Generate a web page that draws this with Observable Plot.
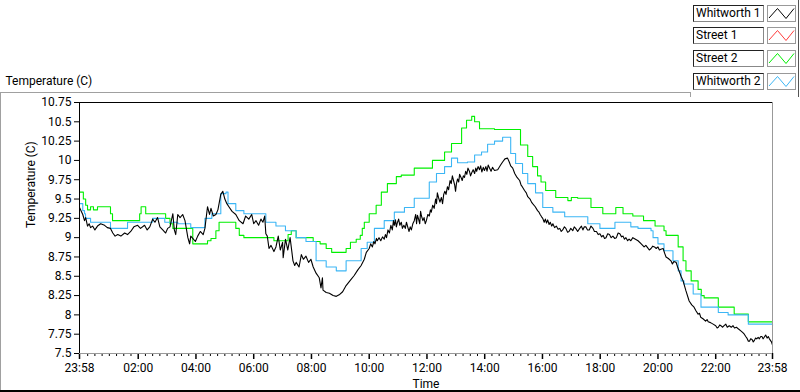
<!DOCTYPE html>
<html>
<head>
<meta charset="utf-8">
<script src="https://cdn.jsdelivr.net/npm/d3@7"></script>
<script src="https://cdn.jsdelivr.net/npm/@observablehq/plot@0.6"></script>
<style>
  html, body { margin: 0; padding: 0; background: #fff; }
  #wrap { position: relative; width: 800px; height: 392px; overflow: hidden; font-family: Roboto, "Liberation Sans", sans-serif; font-size: 12px; color: #000; }
  #chart { position: absolute; left: 0; top: 0; }
  .ln { position: absolute; }
  .lab { position: absolute; left: 693px; border-top: 1px solid #222; border-left: 1px solid #222; border-right: 1px solid #888; border-bottom: 1px solid #888; line-height: 15px; padding-left: 2px; box-sizing: border-box; width: 71px; height: 17px; background: #fff; white-space: nowrap; }
  .sw { position: absolute; left: 767px; width: 29px; height: 17px; border: 1px solid #999; box-sizing: border-box; background: #fff; }
</style>
</head>
<body>
<div id="wrap">
  <div id="chart"></div>
</div>
<script>
// ---- Data ----
const seriesNames = ["Whitworth 1", "Street 1", "Street 2", "Whitworth 2"];
const seriesColors = ["#000000", "#ff3b3b", "#00f000", "#3cb6f5"];

// [hours from midnight, temperature]; 23:58 of the previous day = -0.033
const whitworth1 = [
  [-0.033,9.39],[0.08,9.30],[0.14,9.22],[0.18,9.26],[0.245,9.15],[0.30,9.18],[0.35,9.13],[0.42,9.15],[0.50,9.10],[0.59,9.15],
  [0.70,9.18],[0.835,9.16],[0.93,9.13],[1.04,9.12],[1.12,9.06],[1.20,9.02],[1.29,9.04],[1.40,9.02],[1.53,9.06],[1.63,9.04],
  [1.74,9.08],[1.85,9.14],[1.98,9.16],[2.08,9.12],[2.22,9.16],[2.31,9.10],[2.40,9.14],[2.50,9.24],[2.58,9.20],[2.67,9.26],
  [2.75,9.14],[2.85,9.10],[2.95,9.06],[3.02,9.12],[3.10,9.14],[3.20,9.31],[3.25,9.10],[3.30,9.04],[3.37,9.30],[3.45,9.26],
  [3.54,9.30],[3.62,9.22],[3.72,9.00],[3.78,8.92],[3.82,9.02],[3.89,8.99],[3.98,8.95],[4.06,9.02],[4.15,9.08],[4.25,9.04],
  [4.31,9.12],[4.40,9.40],[4.47,9.30],[4.52,9.38],[4.60,9.28],[4.69,9.30],[4.76,9.36],[4.86,9.56],[4.93,9.60],[5.00,9.50],
  [5.07,9.44],[5.14,9.40],[5.25,9.34],[5.38,9.30],[5.50,9.22],[5.63,9.18],[5.72,9.28],[5.83,9.24],[5.93,9.30],[6.00,9.18],
  [6.08,9.22],[6.17,9.16],[6.25,9.24],[6.32,9.20],[6.38,9.28],[6.42,9.05],[6.47,9.02],[6.53,8.86],[6.60,8.90],[6.70,8.82],
  [6.77,8.88],[6.85,9.02],[6.92,8.84],[7.00,8.94],[7.02,8.74],[7.10,8.98],[7.18,8.84],[7.26,9.00],[7.30,8.88],[7.36,8.70],
  [7.42,8.64],[7.47,8.68],[7.57,8.62],[7.65,8.78],[7.72,8.72],[7.81,8.76],[7.90,8.68],[7.98,8.72],[8.06,8.62],[8.16,8.54],
  [8.27,8.48],[8.33,8.35],[8.38,8.48],[8.40,8.32],[8.51,8.29],[8.62,8.28],[8.75,8.25],[8.86,8.24],[8.96,8.26],[9.08,8.30],
  [9.20,8.38],[9.33,8.44],[9.48,8.51],[9.60,8.58],[9.72,8.64],[9.83,8.72],[9.90,8.81],
  [10.00,8.86],[10.05,8.92],[10.11,8.88],[10.16,8.95],[10.20,8.92],[10.25,8.99],[10.28,8.96],[10.34,9.00],[10.40,8.96],[10.46,9.01],
  [10.52,8.98],[10.56,9.04],[10.60,9.00],[10.65,9.10],[10.70,9.06],[10.75,9.16],[10.80,9.10],[10.84,9.22],[10.87,9.16],[10.91,9.23],
  [10.94,9.14],[10.98,9.20],[11.02,9.24],[11.06,9.16],[11.11,9.20],[11.15,9.12],[11.20,9.16],[11.25,9.12],[11.29,9.20],[11.34,9.13],
  [11.38,9.08],[11.42,9.14],[11.46,9.10],[11.51,9.18],[11.56,9.22],[11.61,9.30],[11.64,9.18],[11.67,9.29],[11.71,9.24],[11.75,9.18],
  [11.78,9.34],[11.81,9.28],[11.86,9.22],[11.90,9.26],[11.94,9.18],[11.98,9.22],[12.03,9.30],[12.08,9.28],[12.12,9.36],[12.15,9.33],
  [12.20,9.42],[12.25,9.38],[12.30,9.50],[12.33,9.44],[12.36,9.58],[12.40,9.52],[12.45,9.46],[12.50,9.52],[12.54,9.44],[12.58,9.56],
  [12.62,9.60],[12.66,9.56],[12.71,9.66],[12.75,9.62],[12.80,9.74],[12.84,9.70],[12.88,9.80],[12.92,9.74],[12.96,9.68],[12.99,9.60],
  [13.02,9.70],[13.06,9.76],[13.10,9.72],[13.13,9.82],[13.18,9.78],[13.22,9.74],[13.26,9.80],[13.30,9.78],[13.34,9.86],[13.38,9.82],
  [13.42,9.90],[13.47,9.86],[13.51,9.80],[13.55,9.84],[13.60,9.88],[13.65,9.83],[13.69,9.90],[13.72,9.86],[13.77,9.92],[13.82,9.88],
  [13.86,9.93],[13.90,9.85],[13.95,9.91],[13.99,9.87],[14.04,9.92],[14.08,9.86],[14.12,9.94],[14.17,9.90],[14.22,9.86],[14.27,9.91],
  [14.34,9.87],[14.45,9.88],[14.55,9.94],[14.62,9.98],[14.70,10.02],[14.79,10.03],[14.85,9.98],[14.90,9.93],[14.97,9.90],[15.04,9.83],
  [15.12,9.78],[15.21,9.74],[15.26,9.68],[15.30,9.66],[15.38,9.61],[15.44,9.58],[15.49,9.53],[15.57,9.50],[15.62,9.46],[15.66,9.44],
  [15.75,9.40],[15.83,9.35],[15.88,9.33],[15.92,9.30],[15.97,9.27],[16.01,9.25],[16.06,9.20],[16.10,9.24],[16.14,9.19],[16.18,9.23],
  [16.23,9.17],[16.27,9.20],[16.32,9.15],[16.36,9.18],[16.42,9.13],[16.48,9.15],[16.54,9.11],[16.60,9.12],[16.65,9.08],[16.70,9.10],
  [16.76,9.14],[16.81,9.12],[16.87,9.07],[16.92,9.08],[16.98,9.12],[17.05,9.09],[17.10,9.14],[17.15,9.12],[17.22,9.08],[17.29,9.12],
  [17.35,9.15],[17.40,9.10],[17.45,9.14],[17.50,9.14],[17.56,9.10],[17.62,9.10],[17.68,9.15],[17.75,9.12],[17.80,9.08],[17.87,9.08],
  [17.93,9.04],[17.99,9.05],[18.05,9.01],[18.10,9.03],[18.15,8.99],[18.20,9.00],[18.26,9.05],[18.32,9.04],[18.38,9.00],[18.44,9.02],
  [18.50,8.99],[18.56,9.00],[18.62,9.06],[18.68,9.05],[18.74,9.01],[18.79,9.02],[18.84,8.98],[18.89,9.00],[18.95,8.96],[19.00,8.98],
  [19.06,8.96],[19.13,9.00],[19.22,8.98],[19.31,8.96],[19.42,8.92],[19.52,8.88],[19.58,8.90],[19.64,8.87],[19.70,8.84],[19.76,8.86],
  [19.82,8.89],[19.88,8.88],[19.94,8.86],[20.00,8.88],[20.05,8.84],[20.10,8.85],[20.18,8.86],[20.23,8.80],[20.28,8.75],[20.36,8.73],
  [20.45,8.70],[20.50,8.66],[20.55,8.69],[20.63,8.68],[20.68,8.62],[20.73,8.57],[20.80,8.50],[20.87,8.44],[20.97,8.31],[21.08,8.18],
  [21.17,8.13],[21.25,8.10],[21.32,8.05],[21.39,8.01],[21.44,8.02],[21.48,7.97],[21.56,7.95],[21.65,7.92],[21.70,7.94],[21.74,7.91],
  [21.82,7.90],[21.91,7.88],[22.00,7.86],[22.05,7.83],[22.09,7.84],[22.14,7.87],[22.18,7.86],[22.24,7.84],[22.29,7.86],[22.35,7.88],
  [22.40,7.84],[22.47,7.86],[22.54,7.84],[22.60,7.86],[22.65,7.83],[22.72,7.84],[22.78,7.82],[22.88,7.79],[22.94,7.77],[22.99,7.75],
  [23.04,7.72],[23.08,7.70],[23.13,7.66],[23.17,7.66],[23.21,7.69],[23.26,7.68],[23.30,7.65],[23.34,7.67],[23.38,7.70],[23.42,7.69],
  [23.47,7.71],[23.51,7.69],[23.56,7.72],[23.60,7.72],[23.64,7.69],[23.68,7.71],[23.73,7.74],[23.78,7.70],[23.82,7.72],[23.86,7.69],
  [23.93,7.65],[23.967,7.61]
];

const street1 = [];

const street2 = [
  [-0.033,9.59],[0.10,9.50],[0.18,9.42],[0.245,9.36],[0.35,9.40],[0.45,9.36],[0.59,9.40],[1.04,9.31],[1.11,9.22],[2.05,9.31],
  [2.10,9.40],[2.26,9.31],[2.95,9.25],[3.10,9.18],[3.20,9.12],[3.89,8.92],[4.40,8.96],[4.52,8.99],[4.69,9.09],[4.80,9.20],
  [5.38,9.12],[5.50,9.03],[5.66,9.00],[6.70,8.96],[7.19,9.04],[7.30,9.09],[7.47,9.00],[8.06,8.95],[8.30,8.92],[8.51,8.86],
  [8.70,8.81],[9.20,8.86],[9.35,8.94],[9.55,8.98],[9.69,9.03],[9.76,9.12],[9.83,9.20],[10.00,9.31],[10.24,9.42],[10.42,9.59],
  [10.63,9.70],[10.94,9.79],[11.11,9.81],[11.56,9.90],[12.19,10.00],[12.61,10.11],[12.85,10.22],[13.20,10.42],[13.37,10.52],[13.55,10.57],
  [13.65,10.50],[13.82,10.41],[14.34,10.40],[15.24,10.20],[15.49,10.05],[15.66,9.92],[15.83,9.80],[15.95,9.72],[16.11,9.61],[16.46,9.52],
  [16.88,9.48],[17.00,9.52],[17.22,9.51],[17.68,9.39],[18.09,9.31],[18.54,9.39],[18.79,9.31],[19.13,9.28],[19.50,9.22],[19.90,9.15],
  [20.21,9.09],[20.28,9.03],[20.70,8.88],[20.87,8.70],[20.97,8.57],[21.15,8.44],[21.39,8.33],[21.50,8.25],[21.60,8.22],[22.09,8.10],
  [22.64,8.01],[23.13,7.91],[23.967,7.91]
];

const whitworth2 = [
  [-0.033,9.44],[0.08,9.35],[0.14,9.31],[0.175,9.25],[0.35,9.20],[1.04,9.12],[1.63,9.20],[2.50,9.25],[2.92,9.20],[3.37,9.18],
  [3.82,9.13],[4.31,9.25],[4.55,9.31],[4.86,9.57],[5.04,9.59],[5.11,9.44],[5.38,9.35],[5.66,9.31],[6.42,9.20],[6.77,9.15],
  [7.10,9.09],[7.47,9.00],[7.81,8.95],[8.16,8.70],[8.51,8.62],[8.86,8.57],[9.20,8.70],[9.72,8.86],[9.93,8.94],[10.18,9.12],
  [10.52,9.22],[10.87,9.33],[11.22,9.39],[11.56,9.51],[12.08,9.72],[12.33,9.83],[12.61,9.92],[12.85,10.03],[13.06,9.97],[13.40,9.98],
  [13.65,10.07],[13.89,10.11],[14.10,10.21],[14.34,10.25],[14.62,10.30],[14.90,10.09],[15.07,9.96],[15.31,9.83],[15.49,9.70],[15.76,9.58],
  [16.01,9.39],[16.36,9.33],[16.77,9.27],[17.57,9.18],[17.99,9.12],[18.51,9.20],[19.06,9.14],[19.31,9.12],[19.76,9.09],[19.83,9.00],
  [20.00,8.92],[20.21,8.83],[20.52,8.70],[20.70,8.57],[20.80,8.44],[20.90,8.40],[21.22,8.27],[21.49,8.10],[22.09,8.03],[22.43,8.00],
  [23.13,7.88],[23.967,7.86]
];

const yTicks = [7.5,7.75,8,8.25,8.5,8.75,9,9.25,9.5,9.75,10,10.25,10.5,10.75];
const yTickLabels = ["7.5","7.75","8","8.25","8.5","8.75","9","9.25","9.5","9.75","10","10.25","10.5","10.75"];
const xMajorTicks = [-2/60,2,4,6,8,10,12,14,16,18,20,22,23+58/60];
const xMajorLabels = ["23:58","02:00","04:00","06:00","08:00","10:00","12:00","14:00","16:00","18:00","20:00","22:00","23:58"];

// ---- Build ----
const toRows = arr => arr.map(([t, v]) => ({t, v}));
const w1 = toRows(whitworth1);
const s1 = toRows(street1);
const s2 = toRows(street2);
const w2 = toRows(whitworth2);
const xStart = xMajorTicks[0], xEnd = xMajorTicks[xMajorTicks.length - 1];
const minorTicks = d3.range(0.25, 24, 0.25).filter(h => !xMajorTicks.some(m => Math.abs(m - h) < 1e-6));
const yLab = new Map(yTicks.map((d, i) => [d, yTickLabels[i]]));
const xLab = new Map(xMajorTicks.map((d, i) => [d, xMajorLabels[i]]));

const chart = Plot.plot({
  width: 800,
  height: 392,
  marginLeft: 79,
  marginRight: 28,
  marginTop: 102,
  marginBottom: 39,
  style: {fontFamily: 'Roboto, "Liberation Sans", sans-serif', fontSize: "12px", background: "transparent", color: "#000", overflow: "visible"},
  x: {domain: [xStart, xEnd]},
  y: {domain: [7.5, 10.75]},
  marks: [
    Plot.axisY({ticks: yTicks, tickSize: 5, tickPadding: 3, tickFormat: d => yLab.get(d), label: null, stroke: "#000"}),
    Plot.axisX({ticks: minorTicks, tickSize: 3, tickFormat: () => "", label: null, stroke: "#000"}),
    Plot.axisX({ticks: xMajorTicks, tickSize: 6, tickPadding: 4, tickFormat: d => xLab.get(d), label: null, stroke: "#000", strokeWidth: 1.5}),
    Plot.line(s1, {x: "t", y: "v", stroke: seriesColors[1], strokeWidth: 1, curve: "step-after"}),
    Plot.line(s2, {x: "t", y: "v", stroke: seriesColors[2], strokeWidth: 1.1, curve: "step-after"}),
    Plot.line(w2, {x: "t", y: "v", stroke: seriesColors[3], strokeWidth: 1.1, curve: "step-after"}),
    Plot.line(w1, {x: "t", y: "v", stroke: seriesColors[0], strokeWidth: 1.1}),
    Plot.ruleY([10.75], {stroke: "#000", strokeWidth: 1}),
    Plot.ruleX([xStart], {stroke: "#000", strokeWidth: 1}),
    Plot.ruleX([xEnd], {stroke: "#999", strokeWidth: 1}),
    Plot.ruleY([7.5], {stroke: "#999", strokeWidth: 1}),
    Plot.text(["Temperature (C)"], {frameAnchor: "left", dx: -48, rotate: -90, lineAnchor: "middle", fill: "#000"}),
    Plot.text(["Time"], {frameAnchor: "bottom", dy: 31, lineAnchor: "middle", fill: "#000"}),
    Plot.text(["Temperature (C)"], {frameAnchor: "top-left", dx: -74, dy: -21, textAnchor: "start", lineAnchor: "middle", fill: "#000"})
  ]
});
document.getElementById("chart").appendChild(chart);

// ---- Panel lines and legend ----
const wrap = document.getElementById("wrap");
function line(x, y, w, h, c) {
  const d = document.createElement("div");
  d.className = "ln";
  Object.assign(d.style, {left: x + "px", top: y + "px", width: w + "px", height: h + "px", background: c});
  wrap.appendChild(d);
}
line(0, 92, 690, 1, "#a0a0a0");
line(0, 92, 1, 300, "#a0a0a0");
line(0, 390, 800, 2, "#000");
line(690, 92, 1, 5, "#a0a0a0");
line(798, 0, 1, 97, "#555");

const rowTops = [5, 27, 50, 73];
seriesNames.forEach((name, i) => {
  const lab = document.createElement("div");
  lab.className = "lab";
  lab.style.top = rowTops[i] + "px";
  lab.textContent = name;
  wrap.appendChild(lab);
  const sw = document.createElement("div");
  sw.className = "sw";
  sw.style.top = rowTops[i] + "px";
  sw.innerHTML = `<svg width="27" height="15" style="position:absolute;left:0;top:0"><polyline points="1,12 9.5,2.5 18,12.5 26,2.5" fill="none" stroke="${seriesColors[i]}" stroke-width="1"/></svg>`;
  wrap.appendChild(sw);
});
</script>
</body>
</html>
